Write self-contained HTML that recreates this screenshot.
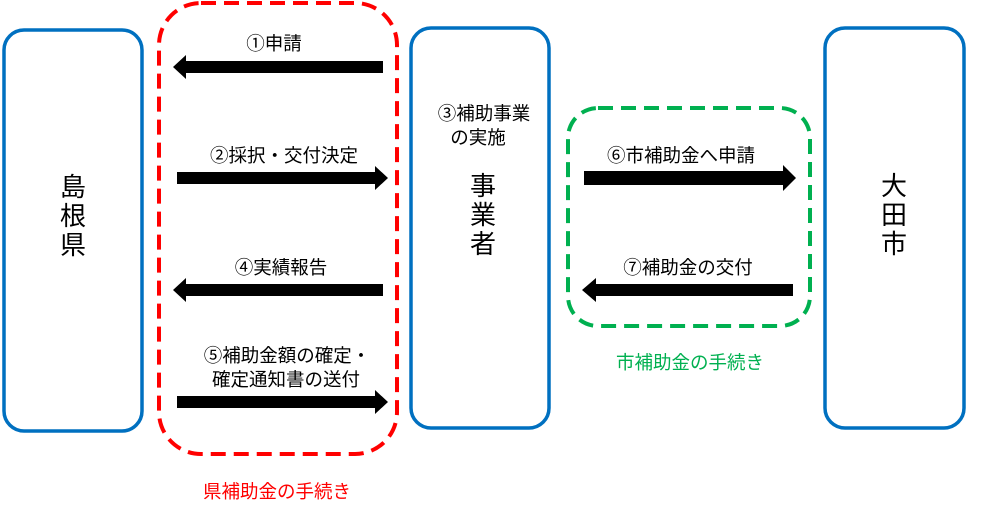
<!DOCTYPE html>
<html><head><meta charset="utf-8"><style>
html,body{margin:0;padding:0;background:#fff;}
svg{display:block}
text{font-family:"Liberation Sans","Noto Sans CJK JP",sans-serif;}
</style></head><body>
<svg width="1007" height="520" viewBox="0 0 1007 520" xmlns="http://www.w3.org/2000/svg">
<g fill="none" stroke="#0070C0" stroke-width="3.5">
<rect x="4" y="30" width="138" height="401" rx="20"/>
<rect x="411" y="28" width="138" height="400" rx="20"/>
<rect x="825" y="28" width="139" height="400" rx="20"/>
</g>
<rect x="159" y="3" width="238" height="451" rx="42" fill="none" stroke="#FF0000" stroke-width="4" stroke-dasharray="15 8"/>
<rect x="568" y="108" width="242" height="218" rx="30" fill="none" stroke="#00B050" stroke-width="4" stroke-dasharray="15 8"/>
<g fill="#000">
<polygon points="383,61 186,61 186,55 173,67 186,79 186,73 383,73"/>
<polygon points="383,284 186,284 186,278 173,290 186,302 186,296 383,296"/>
<polygon points="793,284 596,284 596,278 582,290 596,302 596,296 793,296"/>
<polygon points="177,172 375,172 375,166 388,178 375,190 375,184 177,184"/>
<polygon points="177,396 375,396 375,390 388,402 375,414 375,408 177,408"/>
<polygon points="584,171 783,171 783,165 796,178 783,191 783,185 584,185"/>
</g>
<g font-size="18.5" fill="#000" text-anchor="middle">
<text x="274" y="50">①申請</text>
<text x="284" y="162">②採択・交付決定</text>
<text x="281" y="274">④実績報告</text>
<text x="287" y="362">⑤補助金額の確定・</text>
<text x="286" y="386">確定通知書の送付</text>
<text x="484" y="120">③補助事業</text>
<text x="478" y="144">の実施</text>
<text x="681" y="162">⑥市補助金へ申請</text>
<text x="688" y="274">⑦補助金の交付</text>
</g>
<g font-size="26" fill="#000" text-anchor="middle">
<text x="73" y="196">島</text><text x="73" y="225">根</text><text x="73" y="254">県</text>
<text x="483" y="195">事</text><text x="483" y="224">業</text><text x="483" y="253">者</text>
<text x="894" y="195">大</text><text x="894" y="224">田</text><text x="894" y="253">市</text>
</g>
<text x="277" y="498" font-size="18.5" fill="#FF0000" text-anchor="middle">県補助金の手続き</text>
<text x="690" y="369" font-size="18.5" fill="#00B050" text-anchor="middle">市補助金の手続き</text>
</svg>
</body></html>
